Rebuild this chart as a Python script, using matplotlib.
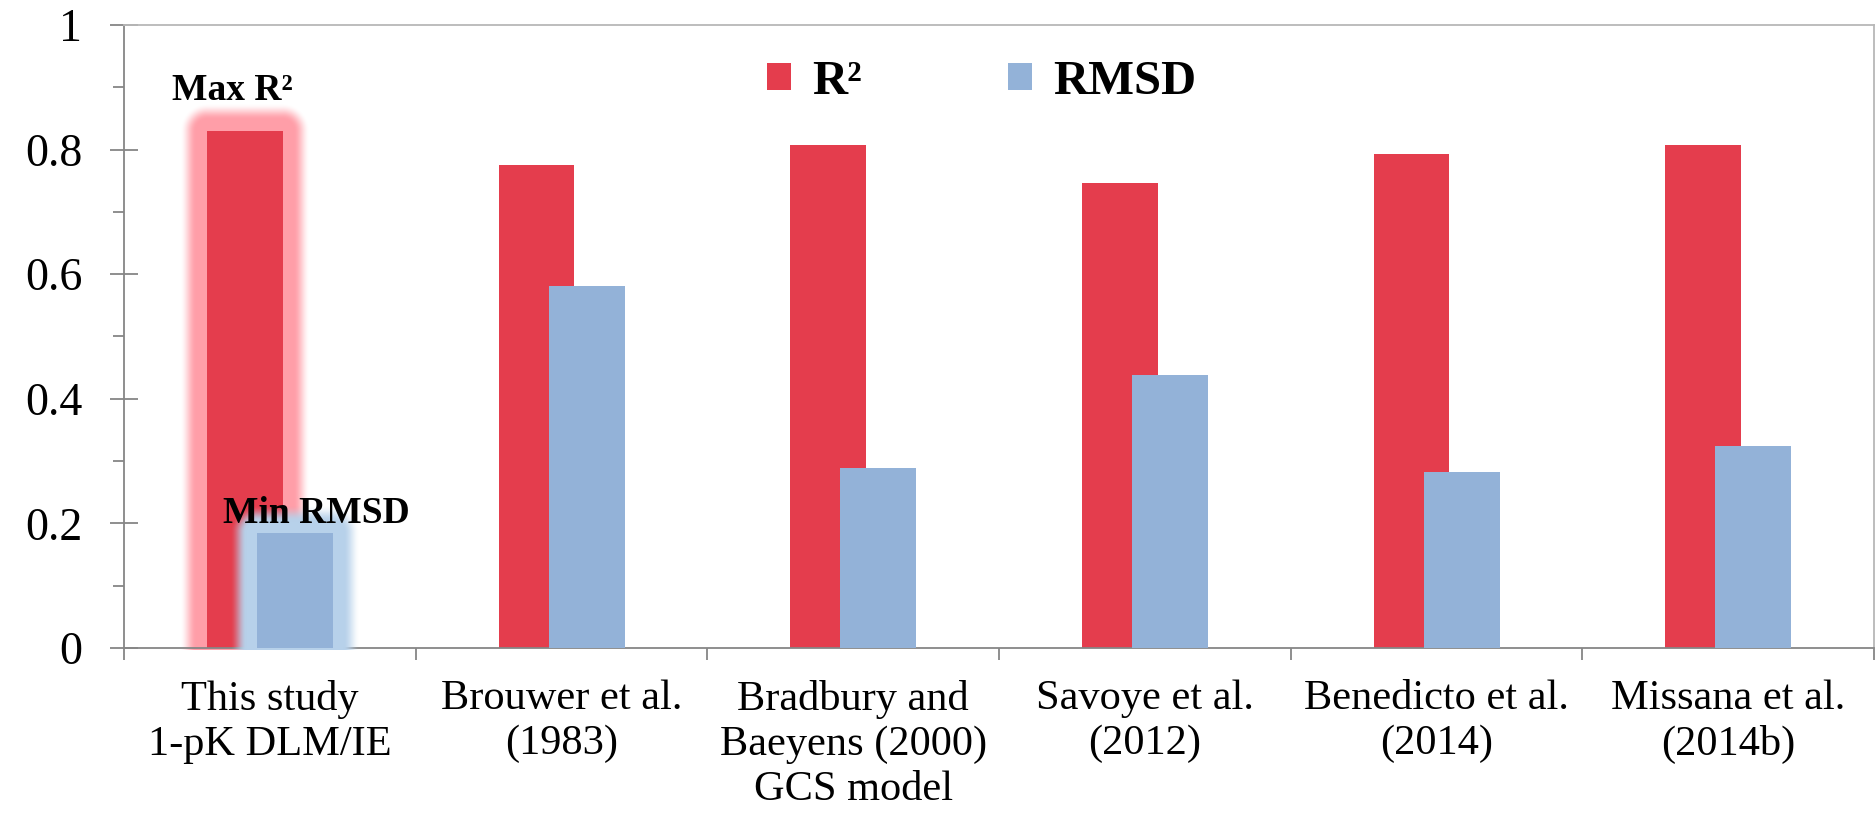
import numpy as np
import matplotlib.pyplot as plt
from matplotlib.ticker import FixedLocator, MultipleLocator

categories = [
    "This study\n1-pK DLM/IE",
    "Brouwer et al.\n(1983)",
    "Bradbury and\nBaeyens (2000)\nGCS model",
    "Savoye et al.\n(2012)",
    "Benedicto et al.\n(2014)",
    "Missana et al.\n(2014b)",
]
r2 = [0.830, 0.776, 0.807, 0.746, 0.793, 0.808]
rmsd = [0.185, 0.581, 0.289, 0.438, 0.283, 0.324]
ytick_labels = ["0", "0.2", "0.4", "0.6", "0.8", "1"]

RED = "#E43D4D"
BLUE = "#93B2D8"
RED_GLOW = (1.0, 0.62, 0.66)
BLUE_GLOW = (0.72, 0.82, 0.92)
AXIS_GRAY = "#868686"

plt.rcParams["font.family"] = ["Liberation Serif", "DejaVu Serif"]

W, H, DPI = 1876, 814, 100
fig = plt.figure(figsize=(W / DPI, H / DPI), dpi=DPI)
ax = fig.add_axes([124 / W, 1 - 648 / H, (1874 - 124) / W, (648 - 25) / H])

x = np.arange(len(categories))
width = 0.26
off = 0.086

# pixels per data unit, used for the glow around the first pair of bars
px_x = (1874 - 124) / len(categories)
px_y = 648 - 25


def glow(x0, x1, top, color, z):
    m = 30
    gx = np.linspace(x0 - m / px_x, x1 + m / px_x, 260)
    gy = np.linspace(-0.004, top + m / px_y, 520)
    X, Y = np.meshgrid(gx, gy)
    dx = np.maximum(np.maximum(x0 - X, X - x1), 0) * px_x
    dy = np.maximum(Y - top, 0) * px_y
    d = np.hypot(dx, dy)
    t = np.clip((d - 11) / 16, 0, 1)
    a = 1 - t * t * (3 - 2 * t)
    img = np.zeros(X.shape + (4,))
    img[..., :3] = color
    img[..., 3] = a
    ax.imshow(img, extent=(gx[0], gx[-1], gy[0], gy[-1]), origin="lower",
              aspect="auto", interpolation="bilinear", zorder=z, clip_on=False)


glow(x[0] - off - width / 2, x[0] - off + width / 2, r2[0], RED_GLOW, 1)
ax.bar(x - off, r2, width, color=RED, zorder=2, label="R²")
glow(x[0] + off - width / 2, x[0] + off + width / 2, rmsd[0], BLUE_GLOW, 3)
ax.bar(x + off, rmsd, width, color=BLUE, zorder=4, label="RMSD")
ax.set_xlim(-0.5, len(categories) - 0.5)
ax.set_ylim(0, 1)

ax.text(x[0] - 0.13, 0.88, "Max R²", fontsize=27, fontweight="bold",
        ha="center", va="baseline", zorder=5)
ax.text(x[0] + 0.158, 0.201, "Min RMSD", fontsize=27, fontweight="bold",
        ha="center", va="baseline", zorder=5)

# axes styling
for s in ["left", "bottom"]:
    ax.spines[s].set_color(AXIS_GRAY)
    ax.spines[s].set_linewidth(1.3)
for s in ["top", "right"]:
    ax.spines[s].set_color("#B8B8B8")
    ax.spines[s].set_linewidth(1.3)

ax.yaxis.set_major_locator(FixedLocator([0, 0.2, 0.4, 0.6, 0.8, 1.0]))
ax.set_yticklabels(ytick_labels)
ax.yaxis.set_minor_locator(MultipleLocator(0.1))
ax.tick_params(axis="y", which="major", direction="inout", length=20,
               width=1.3, color=AXIS_GRAY, labelsize=33, pad=20)
ax.tick_params(axis="y", which="minor", direction="out", length=8,
               width=1.3, color=AXIS_GRAY)

ax.xaxis.set_major_locator(FixedLocator(np.arange(len(categories) + 1) - 0.5))
ax.xaxis.set_major_formatter(plt.NullFormatter())
ax.xaxis.set_minor_locator(FixedLocator(x))
ax.set_xticklabels(categories, minor=True)
ax.tick_params(axis="x", which="major", direction="out", length=8.6,
               width=1.3, color=AXIS_GRAY)
ax.tick_params(axis="x", which="minor", length=0, labelsize=30.5, pad=23)
for lbl in ax.get_xticklabels(minor=True):
    lbl.set_linespacing(1.22)

leg = ax.legend(loc="center", bbox_to_anchor=(982 / W, 1 - 82 / H),
                bbox_transform=fig.transFigure, ncol=2, frameon=False,
                prop={"size": 35, "weight": "bold"}, handlelength=0.48,
                handleheight=0.48, handletextpad=0.45, columnspacing=3.0)

fig.savefig("out.png", dpi=DPI)
